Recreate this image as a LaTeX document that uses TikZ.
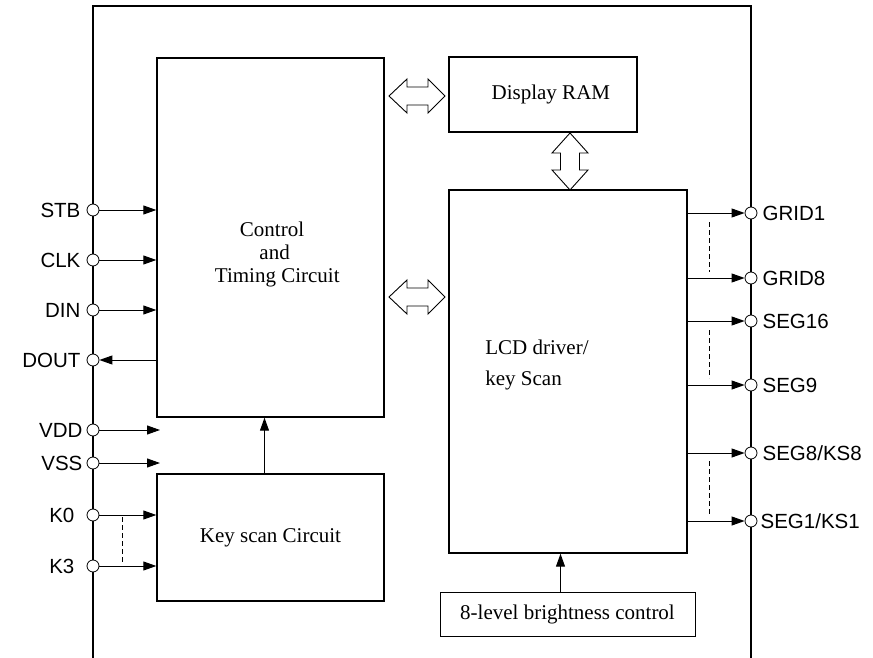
\documentclass[tikz,border=0pt]{standalone}
\usepackage{fontspec}
\setmainfont{Liberation Serif}
\newfontfamily\pinfont{Liberation Sans}
\usetikzlibrary{arrows.meta,positioning}

\begin{document}
\begin{tikzpicture}[
  x=1pt,y=-1pt,
  block/.style={
    draw,
    line width=1.4pt,
    inner sep=0pt,
    align=center,
    font=\fontsize{21}{23}\selectfont
  },
  thinblock/.style={block,line width=1pt},
  blocktext/.style={inner sep=0pt,align=center,font=\fontsize{21}{23}\selectfont},
  pin/.style={circle,draw,fill=white,line width=0.8pt,minimum size=12pt,inner sep=0pt},
  pinname/.style={font=\pinfont\fontsize{20.5}{24}\selectfont,inner sep=0pt},
  sig/.style={-{Triangle[length=13pt,width=9pt]},line width=1pt},
  skip/.style={dashed,dash pattern=on 5pt off 3pt,line width=0.9pt},
  busarrow/.style={draw,line width=0.9pt,fill=white}
]
\useasboundingbox (0,0) rectangle (873,658);

% chip outline
\draw[line width=1.4pt] (93,658) -- (93,6) -- (751,6) -- (751,658);

% blocks
\node[block,minimum width=227pt,minimum height=359pt] (ctrl) at (270.5,237.5) {};
\node[blocktext] (ctrltext) at (272,254)
  {Control\\ \ and\\ \ \ Timing Circuit};
\node[block,minimum width=188pt,minimum height=75pt] (ram) at (543,94.5) {\ \ \ Display RAM};
\node[lcdtext/.style={blocktext,align=left,font=\fontsize{21}{31}\selectfont},
  lcdtext] (lcdtext) at (537,365) {LCD driver/\\ key Scan};
\node[block,minimum width=238pt,minimum height=363pt] (lcd) at (568,371.5) {};
\node[block,minimum width=227pt,minimum height=127pt] (key) at (270.5,537.5) {Key scan Circuit};
\node[thinblock,minimum width=255pt,minimum height=44pt] (bright) at (567.5,614)
  {8-level brightness control};

% bus arrows
\draw[busarrow] (389,96) -- (407,79) -- (407,87) -- (428,87) -- (428,79) -- (445,96)
  -- (428,113) -- (428,105) -- (407,105) -- (407,113) -- cycle;
\draw[busarrow] (389,297) -- (407,280) -- (407,288) -- (428,288) -- (428,280) -- (445,297)
  -- (428,314) -- (428,306) -- (407,306) -- (407,314) -- cycle;
\draw[busarrow] (570,133) -- (588,153) -- (579.5,153) -- (579.5,170) -- (588,170) -- (570,190)
  -- (552,170) -- (560.5,170) -- (560.5,153) -- (552,153) -- cycle;

% inner connections
\draw[sig] ([xshift=-6pt]key.north) -- ([xshift=-6pt]key.north |- ctrl.south);
\draw[sig] ([xshift=-7pt]bright.north) -- ([xshift=-7pt]bright.north |- lcd.south);

% left pins
\node[pin] (stb) at (93,210) {};
\node[pin] (clk) at (93,260) {};
\node[pin] (din) at (93,310) {};
\node[pin] (dout) at (93,360) {};
\node[pin] (vdd) at (93,430) {};
\node[pin] (vss) at (93,463) {};
\node[pin] (k0) at (93,515) {};
\node[pin] (k3) at (93,566) {};
\node[pinname,left=6pt of stb] (stbname) {STB};
\node[pinname,left=6pt of clk] (clkname) {CLK};
\node[pinname,left=6pt of din] (dinname) {DIN};
\node[pinname,left=6pt of dout] (doutname) {DOUT};
\node[pinname,left=4pt of vdd] (vddname) {VDD};
\node[pinname,left=4pt of vss] (vssname) {VSS};
\node[pinname,left=12pt of k0] (k0name) {K0};
\node[pinname,left=12pt of k3] (k3name) {K3};
\coordinate (vddend) at (160,430);
\coordinate (vssend) at (160,463);

\draw[sig] (stb) -- (stb -| ctrl.west);
\draw[sig] (clk) -- (clk -| ctrl.west);
\draw[sig] (din) -- (din -| ctrl.west);
\draw[sig] (dout -| ctrl.west) -- (dout);
\draw[sig] (vdd) -- (vddend);
\draw[sig] (vss) -- (vssend);
\draw[sig] (k0) -- (k0 -| key.west);
\draw[sig] (k3) -- (k3 -| key.west);
\draw[skip] (122,517) -- (122,564);

% right pins
\node[pin] (grid1) at (751,213) {};
\node[pin] (grid8) at (751,278) {};
\node[pin] (seg16) at (751,321) {};
\node[pin] (seg9) at (751,385) {};
\node[pin] (seg8) at (751,453) {};
\node[pin] (seg1) at (751,521) {};
\node[pinname,right=5pt of grid1] (grid1name) {GRID1};
\node[pinname,right=5pt of grid8] (grid8name) {GRID8};
\node[pinname,right=5pt of seg16] (seg16name) {SEG16};
\node[pinname,right=5pt of seg9] (seg9name) {SEG9};
\node[pinname,right=5pt of seg8] (seg8name) {SEG8/KS8};
\node[pinname,right=3pt of seg1] (seg1name) {SEG1/KS1};

\draw[sig] (grid1 -| lcd.east) -- (grid1);
\draw[sig] (grid8 -| lcd.east) -- (grid8);
\draw[sig] (seg16 -| lcd.east) -- (seg16);
\draw[sig] (seg9 -| lcd.east) -- (seg9);
\draw[sig] (seg8 -| lcd.east) -- (seg8);
\draw[sig] (seg1 -| lcd.east) -- (seg1);
\draw[skip] (709,222) -- (709,272);
\draw[skip] (709,330) -- (709,378);
\draw[skip] (709,461) -- (709,514);
\end{tikzpicture}
\end{document}
